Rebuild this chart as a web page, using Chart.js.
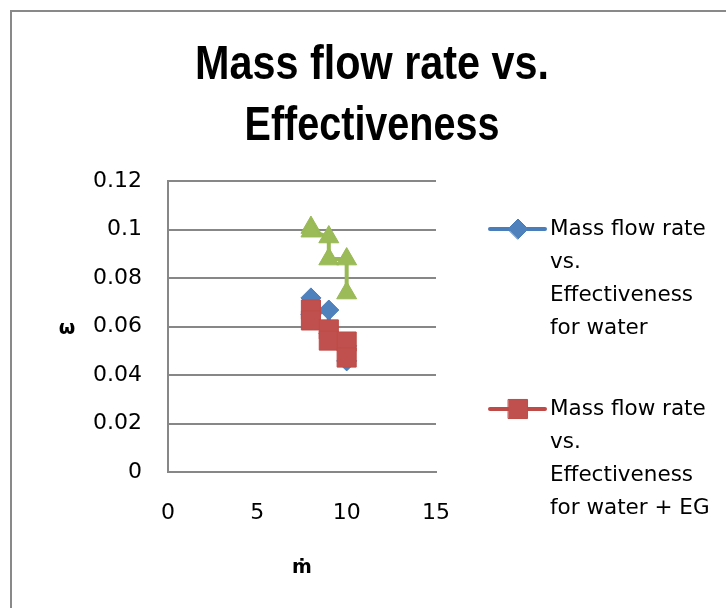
<!DOCTYPE html>
<html><head><meta charset="utf-8">
<script src="https://cdn.jsdelivr.net/npm/chart.js@4.4.0/dist/chart.umd.min.js"></script>
<style>html,body{margin:0;padding:0;background:#fff;overflow:hidden}#wrap{position:relative;width:726px;height:608px}</style>
</head><body><div id="wrap"><canvas id="c" width="726" height="608"></canvas></div>
<script>
const titleLines = ['Mass flow rate vs.', 'Effectiveness'];
const xTitle = 'ṁ';
const yTitle = 'ω';
const yTickLabels = ['0', '0.02', '0.04', '0.06', '0.08', '0.1', '0.12'];
const xTickLabels = ['0', '5', '10', '15'];
const waterX = [8, 8, 9, 9, 10, 10];
const waterY = [0.0718, 0.065, 0.0668, 0.057, 0.052, 0.0458];
const waterEgX = [8, 8, 9, 9, 10, 10];
const waterEgY = [0.0670, 0.0625, 0.0588, 0.0542, 0.0538, 0.0472];
const thirdX = [8, 8, 9, 9, 10, 10];
const thirdY = [0.1008, 0.0993, 0.0969, 0.0878, 0.0878, 0.0738];
const legendWater = ['Mass flow rate', 'vs.', 'Effectiveness', 'for water'];
const legendWaterEg = ['Mass flow rate', 'vs.', 'Effectiveness', 'for water + EG'];

const pts = (xs, ys) => xs.map((x, i) => ({x: x, y: ys[i]}));
const GRID = '#878787';
const titleWidths = [354, 255];

const decor = {
  id: 'decor',
  beforeDraw(chart) {
    const ctx = chart.ctx;
    ctx.save();
    ctx.fillStyle = '#fff';
    ctx.fillRect(0, 0, chart.width, chart.height);
    ctx.strokeStyle = '#898989';
    ctx.lineWidth = 2;
    ctx.beginPath();
    ctx.moveTo(11, chart.height + 5);
    ctx.lineTo(11, 11);
    ctx.lineTo(chart.width + 5, 11);
    ctx.stroke();
    ctx.restore();
  },
  afterDraw(chart) {
    const ctx = chart.ctx, a = chart.chartArea;
    ctx.save();
    ctx.fillStyle = '#000';
    ctx.textAlign = 'center';
    ctx.textBaseline = 'alphabetic';
    ctx.font = 'bold 49px "Liberation Sans", Arial, sans-serif';
    titleLines.forEach((t, i) => {
      const w = ctx.measureText(t).width;
      ctx.save();
      ctx.translate(372, 79 + i * 61);
      ctx.scale(titleWidths[i] / w, 1);
      ctx.fillText(t, 0, 0);
      ctx.restore();
    });
    ctx.font = 'bold 19px "DejaVu Sans"';
    ctx.textBaseline = 'middle';
    ctx.fillText(xTitle, (a.left + a.right) / 2, 568);
    ctx.fillText(yTitle, 67, 329);
    // legend
    const items = [0, 1];
    items.forEach((di, k) => {
      const ds = chart.data.datasets[di];
      const y0 = a.top + 48 + k * 180;
      ctx.strokeStyle = ds.borderColor;
      ctx.lineWidth = 4;
      ctx.lineCap = 'round';
      ctx.beginPath();
      ctx.moveTo(490, y0);
      ctx.lineTo(545, y0);
      ctx.stroke();
      ctx.fillStyle = ds.pointBackgroundColor;
      ctx.strokeStyle = ds.pointBorderColor;
      ctx.lineWidth = 1;
      Chart.helpers.drawPoint(ctx, {pointStyle: ds.pointStyle, radius: ds.pointRadius, borderWidth: 1, rotation: 0}, 518, y0);
      ctx.fillStyle = '#000';
      ctx.textAlign = 'left';
      ctx.font = '21.5px "DejaVu Sans"';
      ds.legendLines.forEach((t, j) => ctx.fillText(t, 550, y0 + j * 33));
    });
    ctx.restore();
  }
};

new Chart(document.getElementById('c'), {
  type: 'scatter',
  data: {
    datasets: [
      {
        label: legendWater.join(' '), legendLines: legendWater,
        data: pts(waterX, waterY), showLine: true, order: 3,
        borderColor: '#4A7EBB', borderWidth: 4,
        pointStyle: 'rectRot', pointRadius: 10,
        pointBackgroundColor: '#4F81BD', pointBorderColor: '#4A7EBB', pointBorderWidth: 1
      },
      {
        label: legendWaterEg.join(' '), legendLines: legendWaterEg,
        data: pts(waterEgX, waterEgY), showLine: true, order: 2,
        borderColor: '#BE4B48', borderWidth: 4,
        pointStyle: 'rect', pointRadius: 13.5,
        pointBackgroundColor: '#C0504D', pointBorderColor: '#BE4B48', pointBorderWidth: 1
      },
      {
        label: 'Series3',
        data: pts(thirdX, thirdY), showLine: true, order: 1,
        borderColor: '#98B954', borderWidth: 4,
        pointStyle: 'triangle', pointRadius: 11.5,
        pointBackgroundColor: '#9BBB59', pointBorderColor: '#98B954', pointBorderWidth: 1
      }
    ]
  },
  options: {
    responsive: false,
    animation: false,
    devicePixelRatio: 1,
    layout: {padding: {left: 0, top: 181, right: 290, bottom: 0}},
    plugins: {legend: {display: false}, title: {display: false}, tooltip: {enabled: false}},
    scales: {
      x: {
        type: 'linear', min: 0, max: 15,
        afterFit: s => { s.height = 136; },
        afterBuildTicks: s => { s.ticks = xTickLabels.map(v => ({value: Number(v)})); },
        ticks: {stepSize: 5, color: '#000', padding: 28, font: {family: 'DejaVu Sans', size: 22}, maxRotation: 0,
          callback: (v, i) => xTickLabels[i]},
        grid: {display: false, drawTicks: false},
        border: {display: true, color: GRID, width: 2}
      },
      y: {
        type: 'linear', min: 0, max: 0.12,
        afterFit: s => { s.width = 168; },
        afterBuildTicks: s => { s.ticks = yTickLabels.map(v => ({value: Number(v)})); },
        ticks: {color: '#000', padding: 26, font: {family: 'DejaVu Sans', size: 22},
          callback: (v, i) => yTickLabels[i]},
        grid: {color: GRID, lineWidth: 2, drawTicks: false},
        border: {display: true, color: GRID, width: 2}
      }
    }
  },
  plugins: [decor]
});
</script>
</body></html>
